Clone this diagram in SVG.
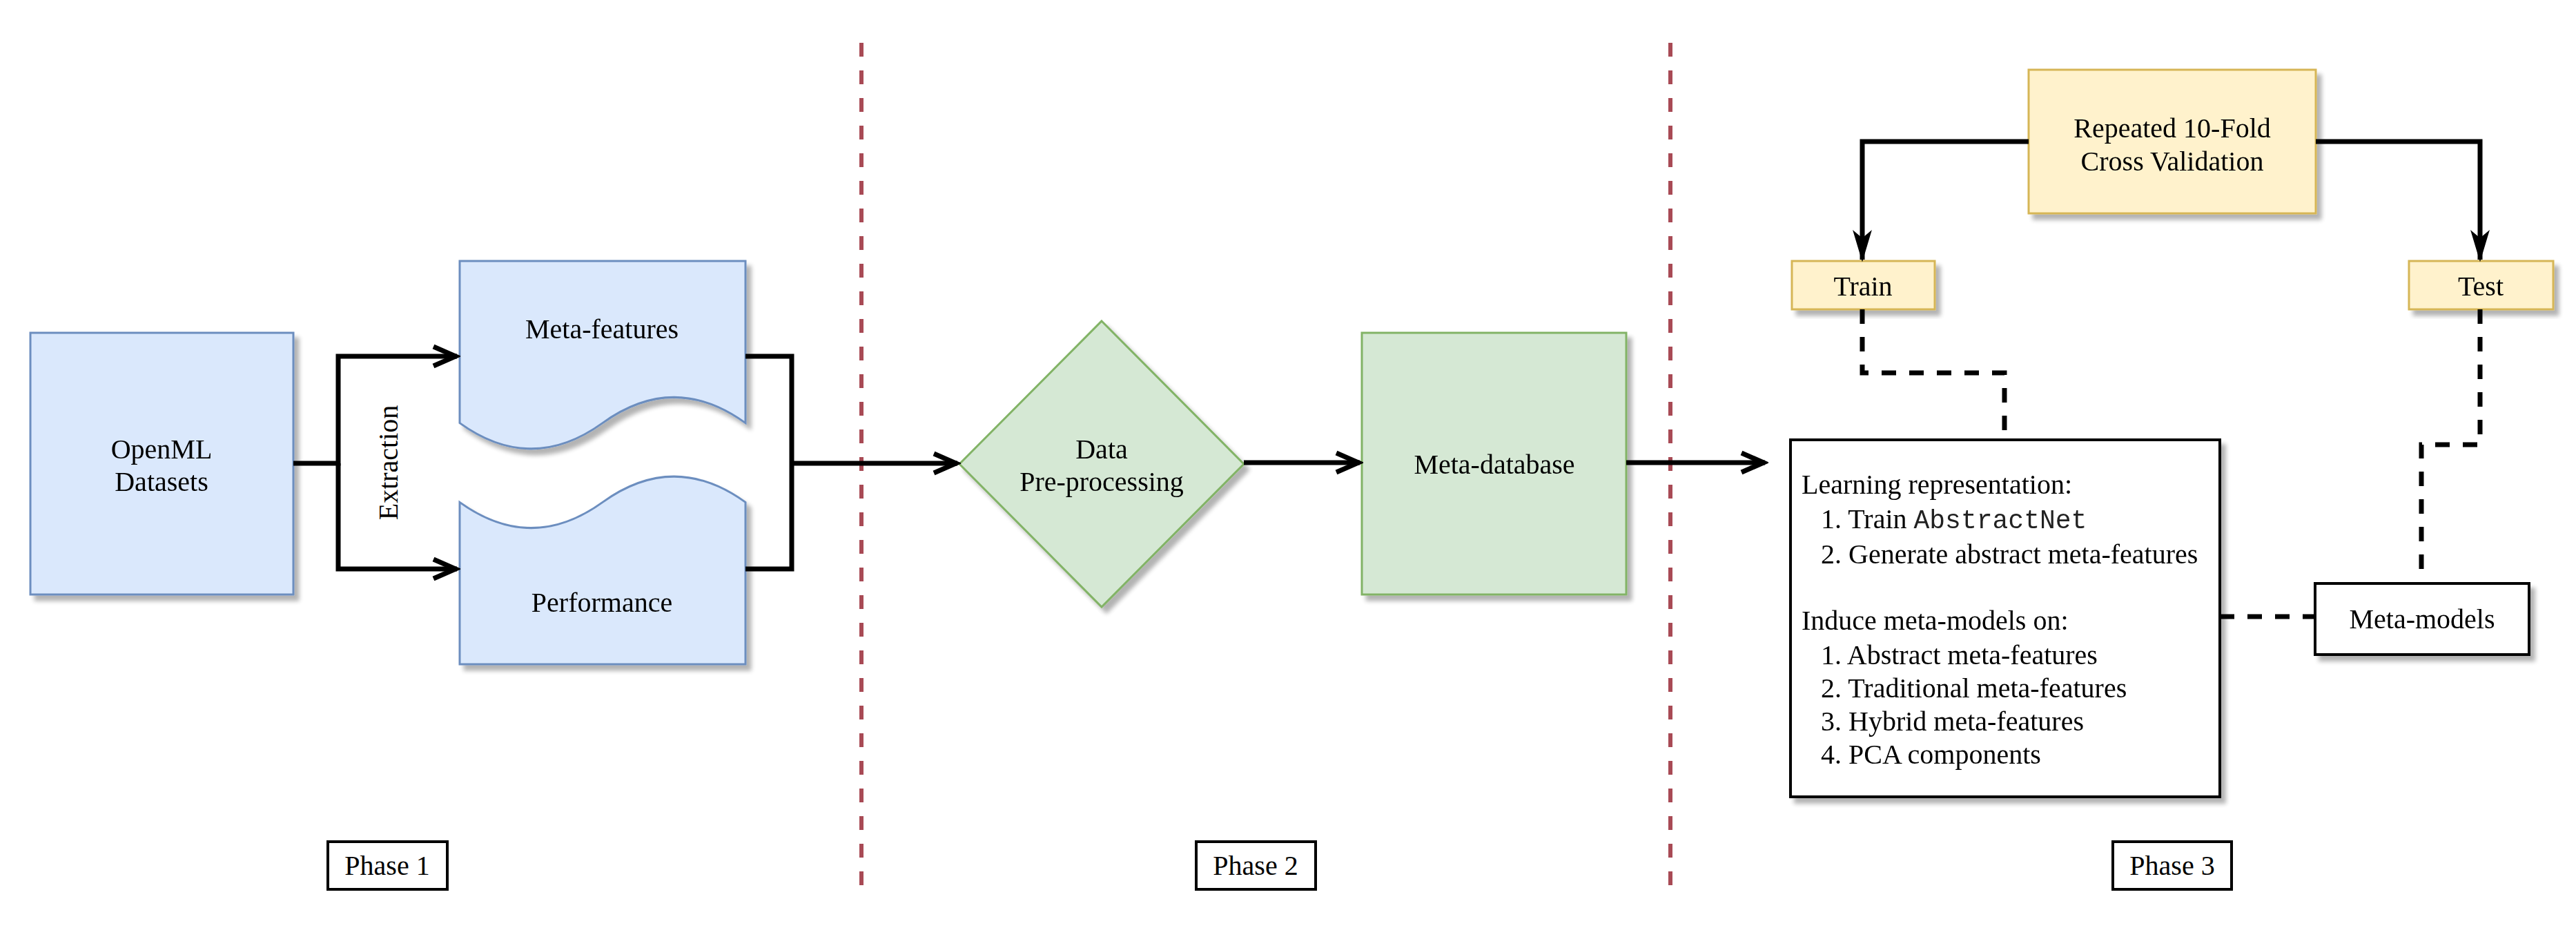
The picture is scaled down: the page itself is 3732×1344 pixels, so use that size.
<svg xmlns="http://www.w3.org/2000/svg" width="3732" height="1344" viewBox="0 0 3732 1344">
<style>
  text { font-family: "Liberation Serif", "Times New Roman", serif; font-size: 40px; fill: #000; }
  .c { text-anchor: middle; }
  .mono { font-family: "Liberation Mono", "Courier New", monospace; font-size: 38px; fill: #222; }
  .blue { fill: #dae8fc; stroke: #6c8ebf; stroke-width: 3; }
  .green { fill: #d5e8d4; stroke: #82b366; stroke-width: 3; }
  .yellow { fill: #fff2cc; stroke: #d6b656; stroke-width: 3; }
  .plain { fill: #ffffff; stroke: #000; stroke-width: 4; }
  .line { fill: none; stroke: #000; stroke-width: 7; }
  .dash { fill: none; stroke: #000; stroke-width: 7; stroke-dasharray: 21 19; }
  .sep { fill: none; stroke: #a84a55; stroke-width: 6; stroke-dasharray: 20 20; }
</style>
<defs>
  <filter id="sh" x="-10%" y="-10%" width="130%" height="130%">
    <feGaussianBlur in="SourceAlpha" stdDeviation="3"/>
    <feOffset dx="7" dy="8" result="o"/>
    <feComponentTransfer><feFuncA type="linear" slope="0.3"/></feComponentTransfer>
    <feMerge><feMergeNode/><feMergeNode in="SourceGraphic"/></feMerge>
  </filter>
  <marker id="open" viewBox="-45 -20 50 40" markerWidth="50" markerHeight="40" refX="0" refY="0" orient="auto" markerUnits="userSpaceOnUse">
    <path d="M-34,-14 L-2,0 L-34,14" fill="none" stroke="#000" stroke-width="7"/>
  </marker>
  <marker id="classic" viewBox="-45 -20 50 40" markerWidth="50" markerHeight="40" refX="0" refY="0" orient="auto" markerUnits="userSpaceOnUse">
    <path d="M0,0 L-40,-12 L-30,0 L-40,12 Z" fill="#000" stroke="#000" stroke-width="2"/>
  </marker>
</defs>
<rect width="3732" height="1344" fill="#ffffff"/>

<g id="separators">
  <path class="sep" d="M1248,62 V1285"/>
  <path class="sep" d="M2420,62 V1285"/>
</g>

<g id="node-openml" filter="url(#sh)">
  <rect class="blue" x="44" y="482" width="381" height="379"/>
  <text class="c" x="234" y="664">OpenML</text>
  <text class="c" x="234" y="711">Datasets</text>
</g>

<g id="node-metafeatures" filter="url(#sh)">
  <path class="blue" d="M666,378 H1080 V612.6 Q976.5,538.1 873,612.6 Q769.5,687.1 666,612.6 Z"/>
  <text class="c" x="872" y="490">Meta-features</text>
</g>

<g id="node-performance" filter="url(#sh)">
  <path class="blue" d="M1080,962 H666 V727.4 Q769.5,801.9 873,727.4 Q976.5,652.9 1080,727.4 Z"/>
  <text class="c" x="872" y="886">Performance</text>
</g>

<g id="node-preprocessing" filter="url(#sh)">
  <path class="green" d="M1596,465 L1802,672 L1596,879 L1390,672 Z"/>
  <text class="c" x="1596" y="664">Data</text>
  <text class="c" x="1596" y="711">Pre-processing</text>
</g>

<g id="node-metadatabase" filter="url(#sh)">
  <rect class="green" x="1973" y="482" width="383" height="379"/>
  <text class="c" x="2165" y="686">Meta-database</text>
</g>

<g id="node-cv" filter="url(#sh)">
  <rect class="yellow" x="2939" y="101" width="416" height="208"/>
  <text class="c" x="3147" y="199">Repeated 10-Fold</text>
  <text class="c" x="3147" y="247">Cross Validation</text>
</g>

<g id="node-train" filter="url(#sh)">
  <rect class="yellow" x="2596" y="378" width="207" height="70"/>
  <text class="c" x="2699" y="428">Train</text>
</g>

<g id="node-test" filter="url(#sh)">
  <rect class="yellow" x="3490" y="378" width="209" height="70"/>
  <text class="c" x="3594" y="428">Test</text>
</g>

<g id="node-learning" filter="url(#sh)">
  <rect class="plain" x="2594" y="637" width="622" height="517"/>
  <text x="2610" y="715">Learning representation:</text>
  <text x="2638" y="765">1. Train <tspan class="mono">AbstractNet</tspan></text>
  <text x="2638" y="816">2. Generate abstract meta-features</text>
  <text x="2610" y="912">Induce meta-models on:</text>
  <text x="2638" y="962">1. Abstract meta-features</text>
  <text x="2638" y="1010">2. Traditional meta-features</text>
  <text x="2638" y="1058">3. Hybrid meta-features</text>
  <text x="2638" y="1106">4. PCA components</text>
</g>

<g id="node-metamodels" filter="url(#sh)">
  <rect class="plain" x="3354" y="845" width="310" height="103"/>
  <text class="c" x="3509" y="910">Meta-models</text>
</g>

<g id="phase1">
  <rect class="plain" x="475" y="1219" width="173" height="69"/>
  <text class="c" x="561" y="1267">Phase 1</text>
</g>
<g id="phase2">
  <rect class="plain" x="1733" y="1219" width="173" height="69"/>
  <text class="c" x="1819" y="1267">Phase 2</text>
</g>
<g id="phase3">
  <rect class="plain" x="3061" y="1219" width="172" height="69"/>
  <text class="c" x="3147" y="1267">Phase 3</text>
</g>

<g id="connectors">
  <path class="line" d="M425,671 H490 V516 H662" marker-end="url(#open)"/>
  <path class="line" d="M490,671 V824 H662" marker-end="url(#open)"/>
  <path class="line" d="M1080,516 H1147 V824 H1080"/>
  <path class="line" d="M1147,671 H1387" marker-end="url(#open)"/>
  <path class="line" d="M1802,670 H1970" marker-end="url(#open)"/>
  <path class="line" d="M2356,670 H2557" marker-end="url(#open)"/>
  <path class="line" d="M2939,205 H2698 V376" marker-end="url(#classic)"/>
  <path class="line" d="M3355,205 H3593 V376" marker-end="url(#classic)"/>
  <path class="dash" d="M2698,448 V540 H2904 V637"/>
  <path class="dash" d="M3593,448 V644 H3508 V845"/>
  <path class="dash" d="M3216,893 H3354"/>
  <text transform="translate(576,670) rotate(-90)" class="c">Extraction</text>
</g>
</svg>
